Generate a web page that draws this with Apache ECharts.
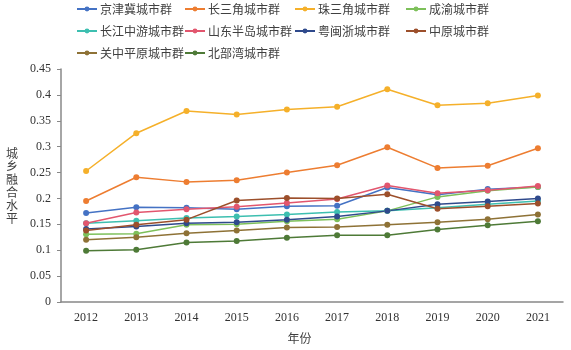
<!DOCTYPE html>
<html>
<head>
<meta charset="utf-8">
<script src="https://cdn.jsdelivr.net/npm/echarts@6/dist/echarts.min.js"></script>
<style>
  html, body { margin: 0; padding: 0; background: #fff; }
  #main { width: 571px; height: 350px; }
</style>
</head>
<body>
<div id="main"></div>
<script>
var years = ['2012', '2013', '2014', '2015', '2016', '2017', '2018', '2019', '2020', '2021'];

var names = ['京津冀城市群', '长三角城市群', '珠三角城市群', '成渝城市群', '长江中游城市群',
  '山东半岛城市群', '粤闽浙城市群', '中原城市群', '关中平原城市群', '北部湾城市群'];

var colors = ['#4472C4', '#ED7D31', '#F5B02A', '#7DC05A', '#3DBFB0',
  '#E2566E', '#2F4A8C', '#9C4F2B', '#8E7236', '#4E7A37'];

var jingjinji = [0.172, 0.183, 0.182, 0.179, 0.185, 0.186, 0.221, 0.207, 0.218, 0.222];
var changsanjiao = [0.195, 0.241, 0.232, 0.235, 0.250, 0.264, 0.299, 0.259, 0.263, 0.297];
var zhusanjiao = [0.253, 0.326, 0.369, 0.362, 0.372, 0.377, 0.411, 0.380, 0.384, 0.399];
var chengyu = [0.131, 0.132, 0.149, 0.150, 0.156, 0.160, 0.176, 0.203, 0.215, 0.222];
var changjiang = [0.152, 0.157, 0.162, 0.165, 0.169, 0.174, 0.176, 0.182, 0.189, 0.195];
var shandong = [0.152, 0.173, 0.179, 0.184, 0.191, 0.199, 0.225, 0.210, 0.216, 0.224];
var yueminzhe = [0.141, 0.146, 0.152, 0.154, 0.159, 0.165, 0.176, 0.189, 0.194, 0.200];
var zhongyuan = [0.138, 0.149, 0.159, 0.196, 0.201, 0.200, 0.208, 0.180, 0.185, 0.190];
var guanzhong = [0.120, 0.125, 0.133, 0.138, 0.144, 0.145, 0.149, 0.154, 0.160, 0.169];
var beibuwan = [0.099, 0.101, 0.115, 0.118, 0.124, 0.129, 0.129, 0.140, 0.148, 0.156];

var values = [jingjinji, changsanjiao, zhusanjiao, chengyu, changjiang,
  shandong, yueminzhe, zhongyuan, guanzhong, beibuwan];

var yTicks = ['0', '0.05', '0.1', '0.15', '0.2', '0.25', '0.3', '0.35', '0.4', '0.45'];

var serif = '"Liberation Serif", "Noto Sans CJK SC", serif';
var cjk = '"Noto Sans CJK SC", sans-serif';

var myChart = echarts.init(document.getElementById('main'));

function makeLegend(left, items) {
  return {
    orient: 'vertical',
    left: left,
    top: 2,
    padding: 0,
    itemGap: 8,
    itemWidth: 20,
    itemHeight: 6,
    data: items,
    textStyle: { fontFamily: cjk, fontSize: 12, lineHeight: 14, color: '#404040', padding: [0, 0, 0, -2] }
  };
}

var series = names.map(function (n, i) {
  return {
    name: n,
    type: 'line',
    data: values[i],
    symbol: 'circle',
    symbolSize: 6,
    color: colors[i],
    lineStyle: { width: 1.5 },
    animation: false
  };
});

option = {
  backgroundColor: '#fff',
  color: colors,
  legend: [
    makeLegend(76, [names[0], names[4], names[8]]),
    makeLegend(184, [names[1], names[5], names[9]]),
    makeLegend(294, [names[2], names[6]]),
    makeLegend(405, [names[3], names[7]])
  ],
  grid: { left: 61, right: 8, top: 69, bottom: 48 },
  xAxis: {
    type: 'category',
    data: years,
    boundaryGap: true,
    name: '年份',
    nameLocation: 'middle',
    nameGap: 30,
    nameTextStyle: { fontFamily: cjk, fontSize: 12, color: '#404040', padding: [0, 25, 0, 0] },
    axisLine: { lineStyle: { color: '#888', width: 1.5 } },
    axisTick: { inside: true, length: 4, lineStyle: { color: '#888' } },
    axisLabel: { fontFamily: serif, fontSize: 12, color: '#333', margin: 10 }
  },
  yAxis: {
    type: 'value',
    min: 0,
    max: 0.45,
    interval: 0.05,
    name: '城\n乡\n融\n合\n水\n平',
    nameLocation: 'middle',
    nameRotate: 0,
    nameGap: 43,
    nameTextStyle: { fontFamily: cjk, fontSize: 12, color: '#404040', lineHeight: 13, padding: [0, 0, 4, 0] },
    axisLine: { show: true, lineStyle: { color: '#888', width: 1.5 } },
    axisTick: { show: true, length: 4, lineStyle: { color: '#888' } },
    splitLine: { show: false },
    axisLabel: {
      fontFamily: serif, fontSize: 12, color: '#333', margin: 10,
      formatter: function (v, i) { return yTicks[i]; }
    }
  },
  series: series
};

myChart.setOption(option);
</script>
</body>
</html>
